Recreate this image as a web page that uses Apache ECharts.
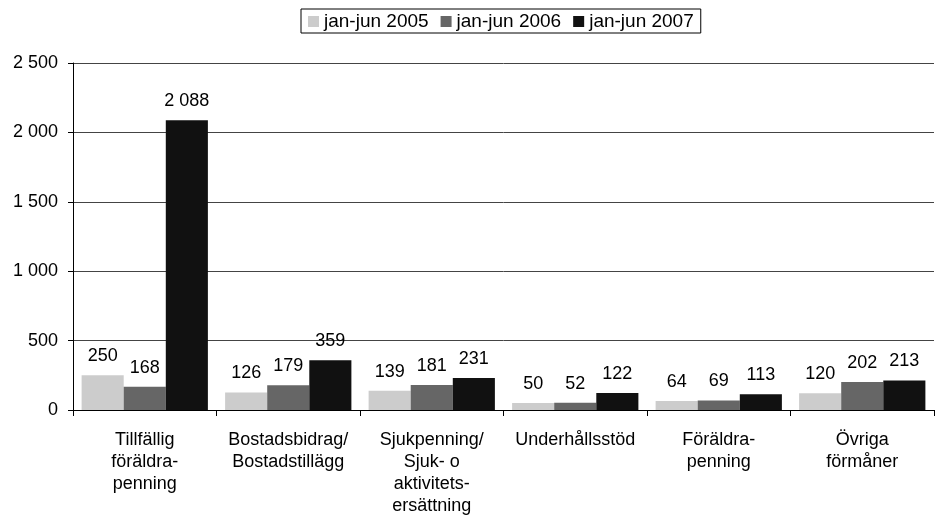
<!DOCTYPE html>
<html>
<head>
<meta charset="utf-8">
<script src="https://cdn.jsdelivr.net/npm/echarts@6/dist/echarts.min.js"></script>
<style>
  html, body { margin: 0; padding: 0; background: #fff; }
  #chart { width: 935px; height: 518px; }
</style>
</head>
<body>
<div id="chart"></div>
<script>
// Categories and values per half-year period
var categories = ['Tillfällig\nföräldra-\npenning', 'Bostadsbidrag/\nBostadstillägg', 'Sjukpenning/\nSjuk- o\naktivitets-\nersättning', 'Underhållsstöd', 'Föräldra-\npenning', 'Övriga\nförmåner'];
var seriesNames = ['jan-jun 2005', 'jan-jun 2006', 'jan-jun 2007'];
var values2005 = [250, 126, 139, 50, 64, 120];
var values2006 = [168, 179, 181, 52, 69, 202];
var values2007 = [2088, 359, 231, 122, 113, 213];
var colors = ['#cccccc', '#666666', '#111111'];

function fmt(v) {
    return String(v).replace(/\B(?=(\d{3})+(?!\d))/g, ' ');
}

var chart = echarts.init(document.getElementById('chart'));

function makeSeries(name, data) {
    return {
        name: name,
        type: 'bar',
        data: data,
        barGap: '0%',
        barCategoryGap: '12%',
        label: {
            show: true,
            position: 'top',
            distance: 10,
            color: '#000',
            fontSize: 18,
            fontFamily: 'Liberation Sans',
            formatter: function (p) { return fmt(p.value); }
        }
    };
}

var option = {
    animation: false,
    color: colors,
    textStyle: { fontFamily: 'Liberation Sans' },
    legend: {
        data: seriesNames,
        top: 9,
        left: 301,
        itemWidth: 11,
        itemHeight: 11,
        itemGap: 12,
        padding: [3, 7, 2, 7],
        borderColor: '#000',
        borderWidth: 1,
        icon: 'rect',
        textStyle: { fontSize: 19, color: '#000' }
    },
    grid: {
        left: 73,
        right: 1,
        top: 63,
        bottom: 108,
        containLabel: false
    },
    xAxis: {
        type: 'category',
        data: categories,
        axisLine: { lineStyle: { color: '#000', width: 1 } },
        axisTick: { show: true, length: 6, lineStyle: { color: '#000' } },
        axisLabel: {
            interval: 0,
            color: '#000',
            fontSize: 18,
            lineHeight: 22,
            margin: 19
        }
    },
    yAxis: {
        type: 'value',
        min: 0,
        max: 2500,
        interval: 500,
        axisLine: { show: true, lineStyle: { color: '#000' } },
        axisTick: { show: true, length: 5, lineStyle: { color: '#000' } },
        splitLine: { lineStyle: { color: '#444', width: 1 } },
        axisLabel: {
            color: '#000',
            fontSize: 18,
            margin: 15,
            formatter: function (v) { return fmt(v); }
        }
    },
    series: [
        makeSeries(seriesNames[0], values2005),
        makeSeries(seriesNames[1], values2006),
        makeSeries(seriesNames[2], values2007)
    ]
};

chart.setOption(option);
</script>
</body>
</html>
